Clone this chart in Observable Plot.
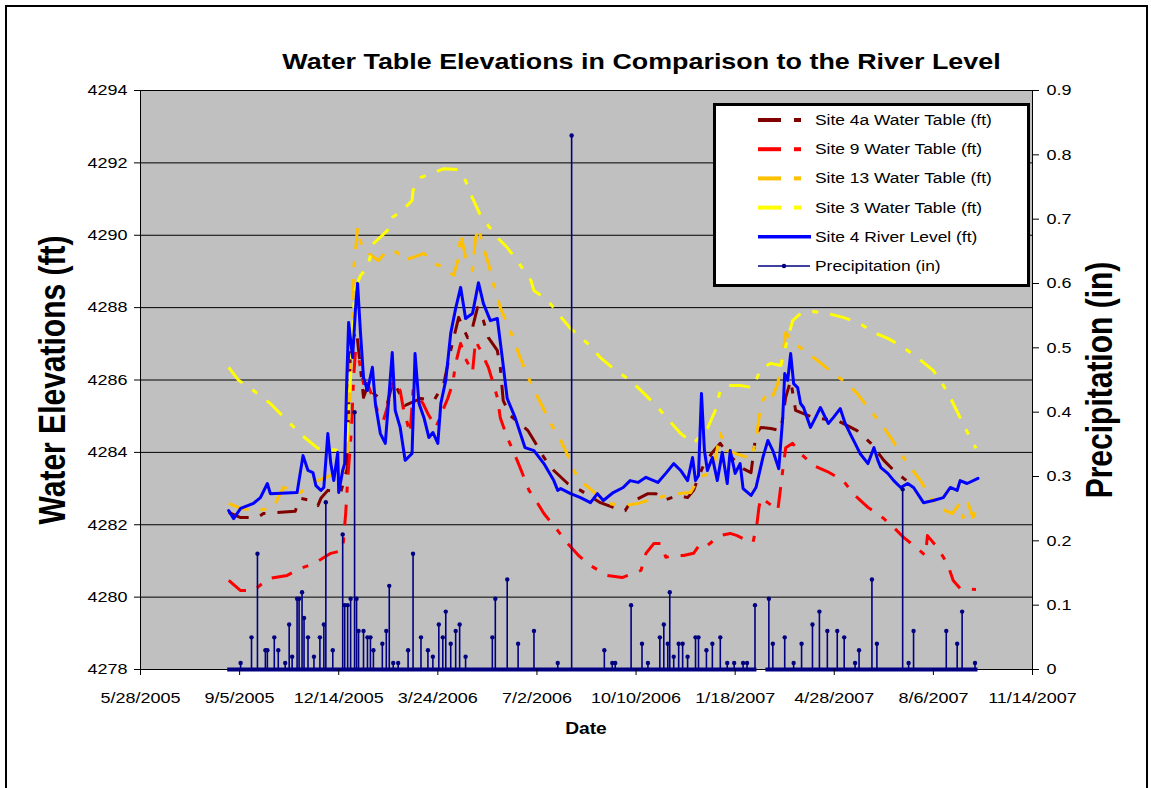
<!DOCTYPE html>
<html><head><meta charset="utf-8">
<script src="https://cdn.jsdelivr.net/npm/d3@7"></script>
<script src="https://cdn.jsdelivr.net/npm/@observablehq/plot@0.6"></script>
<style>
html,body{margin:0;padding:0;background:#fff;overflow:hidden}
#wrap{position:relative;width:1151px;height:788px;overflow:hidden;font-family:"Liberation Sans",Arial,sans-serif}
#chart{position:absolute;left:0;top:0}
#frame{position:absolute;left:5px;top:5px;width:1143px;height:820px;border:2px solid #000;box-sizing:border-box;pointer-events:none}
#overlay{position:absolute;left:0;top:0;pointer-events:none}
</style></head><body>
<div id="wrap"><div id="chart"></div><div id="frame"></div><svg id="overlay" width="1151" height="788"></svg></div>
<script>
// Dates are Excel serial day numbers (as in the source workbook)
const site4a = [[38589,4282.34],[38601,4282.20],[38618,4282.20],[38624,4282.31],[38638,4282.34],[38656,4282.37],[38661,4282.73],[38672,4282.67],[38679,4282.53],[38682,4282.73],[38689,4282.95],[38702,4282.89],[38708,4283.50],[38712,4287.01],[38718,4287.37],[38725,4285.52],[38730,4285.90],[38735,4285.63],[38749,4285.35],[38755,4285.99],[38767,4285.30],[38783,4285.49],[38796,4285.43],[38806,4285.90],[38813,4286.82],[38821,4287.73],[38830,4287.17],[38835,4287.45],[38840,4288.00],[38846,4287.64],[38851,4287.17],[38860,4286.82],[38863,4286.35],[38866,4285.43],[38873,4285.02],[38891,4284.60],[38897,4284.33],[38907,4283.86],[38917,4283.50],[38931,4283.14],[38944,4282.95],[38964,4282.61],[38977,4282.48],[38989,4282.39],[38994,4282.61],[39012,4282.86],[39020,4282.86],[39028,4282.67],[39042,4282.81],[39052,4282.75],[39058,4282.95],[39063,4283.31],[39067,4283.58],[39077,4284.00],[39085,4284.25],[39092,4283.97],[39102,4283.72],[39108,4283.55],[39116,4283.44],[39121,4284.52],[39126,4284.69],[39136,4284.66],[39146,4284.60],[39151,4285.52],[39156,4285.99],[39161,4285.16],[39169,4285.07],[39179,4284.96],[39203,4284.88],[39223,4284.60],[39237,4284.25],[39250,4283.78],[39260,4283.50],[39270,4283.28],[39277,4283.14]];

const site9 = [[38589,4280.46],[38601,4280.18],[38614,4280.18],[38629,4280.51],[38648,4280.60],[38661,4280.79],[38675,4280.93],[38692,4281.21],[38704,4281.29],[38707,4282.31],[38709,4283.22],[38713,4284.69],[38715,4286.07],[38717,4286.82],[38720,4286.62],[38725,4285.90],[38729,4285.90],[38739,4285.16],[38745,4284.88],[38749,4285.24],[38755,4285.99],[38762,4285.71],[38765,4285.24],[38772,4284.52],[38775,4285.71],[38785,4285.35],[38790,4285.07],[38798,4284.69],[38805,4285.16],[38810,4285.49],[38815,4285.90],[38818,4286.46],[38823,4287.01],[38828,4286.59],[38835,4286.21],[38838,4287.09],[38843,4286.82],[38851,4286.35],[38856,4285.90],[38860,4285.52],[38863,4284.96],[38870,4284.41],[38876,4284.05],[38883,4283.58],[38892,4282.95],[38899,4282.67],[38907,4282.31],[38921,4281.84],[38931,4281.48],[38942,4281.15],[38954,4280.87],[38971,4280.60],[38986,4280.54],[39005,4280.74],[39010,4281.21],[39018,4281.48],[39025,4281.48],[39030,4281.10],[39038,4281.15],[39048,4281.15],[39058,4281.21],[39065,4281.48],[39072,4281.43],[39078,4281.56],[39085,4281.70],[39095,4281.76],[39102,4281.70],[39112,4281.56],[39118,4281.51],[39122,4282.03],[39124,4282.48],[39126,4282.75],[39134,4282.59],[39143,4282.39],[39148,4283.50],[39151,4284.13],[39158,4284.25],[39166,4283.97],[39179,4283.64],[39193,4283.47],[39209,4283.22],[39219,4282.86],[39234,4282.48],[39250,4282.17],[39259,4281.95],[39270,4281.65],[39284,4281.34],[39292,4281.15],[39294,4281.70],[39304,4281.37],[39314,4280.93],[39320,4280.46],[39327,4280.24],[39343,4280.21]];

const site13 = [[38589,4282.59],[38601,4282.45],[38618,4282.39],[38634,4282.48],[38644,4283.03],[38661,4282.89],[38679,4283.22],[38687,4283.31],[38705,4283.50],[38709,4284.05],[38714,4287.73],[38715,4289.03],[38717,4289.58],[38719,4290.21],[38721,4289.91],[38725,4289.58],[38730,4289.50],[38740,4289.30],[38749,4289.58],[38759,4289.53],[38764,4289.30],[38775,4289.39],[38786,4289.50],[38796,4289.22],[38806,4289.11],[38816,4288.89],[38821,4289.39],[38823,4290.05],[38828,4289.39],[38835,4289.03],[38838,4289.91],[38841,4290.21],[38846,4289.66],[38851,4289.22],[38856,4288.67],[38863,4288.00],[38873,4287.37],[38883,4286.62],[38894,4285.90],[38904,4285.35],[38914,4284.80],[38924,4284.33],[38932,4283.86],[38937,4283.50],[38944,4283.22],[38952,4283.03],[38971,4282.59],[38987,4282.53],[39002,4282.59],[39022,4282.75],[39042,4282.86],[39055,4282.89],[39062,4283.22],[39068,4283.36],[39077,4283.44],[39085,4284.52],[39092,4284.05],[39100,4283.97],[39116,4283.83],[39121,4284.33],[39126,4285.35],[39131,4285.57],[39136,4285.43],[39143,4285.90],[39148,4286.68],[39151,4287.31],[39159,4287.04],[39169,4286.82],[39183,4286.54],[39199,4286.18],[39213,4285.90],[39223,4285.63],[39234,4285.24],[39247,4284.80],[39257,4284.41],[39267,4283.97],[39277,4283.58],[39287,4283.22],[39297,4282.75],[39307,4282.45],[39319,4282.31],[39327,4282.59],[39330,4282.20],[39335,4282.59],[39340,4282.20],[39343,4282.39]];

const site3 = [[38589,4286.35],[38599,4285.99],[38614,4285.71],[38631,4285.35],[38648,4284.88],[38663,4284.47],[38679,4284.11],[38702,4284.05],[38708,4284.33],[38712,4286.12],[38716,4288.47],[38722,4288.89],[38729,4289.11],[38735,4289.77],[38749,4290.13],[38754,4290.49],[38764,4290.68],[38774,4290.96],[38775,4291.24],[38783,4291.60],[38796,4291.73],[38806,4291.84],[38820,4291.82],[38828,4291.51],[38833,4291.15],[38843,4290.55],[38860,4289.94],[38870,4289.66],[38880,4289.30],[38894,4288.75],[38897,4288.47],[38911,4288.20],[38921,4287.84],[38934,4287.42],[38951,4287.01],[38964,4286.62],[38977,4286.32],[38994,4285.99],[39008,4285.63],[39022,4285.24],[39035,4284.83],[39045,4284.52],[39058,4284.25],[39072,4284.66],[39080,4285.16],[39085,4285.71],[39092,4285.85],[39105,4285.85],[39118,4285.79],[39126,4286.32],[39136,4286.46],[39146,4286.40],[39149,4286.73],[39158,4287.64],[39166,4287.84],[39179,4287.89],[39193,4287.84],[39209,4287.73],[39226,4287.56],[39240,4287.31],[39254,4287.15],[39267,4286.95],[39284,4286.62],[39300,4286.26],[39309,4285.90],[39317,4285.52],[39327,4284.96],[39335,4284.52],[39343,4284.11]];

const river4 = [[38589,4282.39],[38594,4282.17],[38601,4282.45],[38614,4282.59],[38621,4282.75],[38628,4283.14],[38631,4282.86],[38658,4282.89],[38664,4283.91],[38669,4283.50],[38674,4283.44],[38677,4283.08],[38682,4282.95],[38685,4283.03],[38689,4284.52],[38692,4283.69],[38695,4283.22],[38699,4284.00],[38700,4282.89],[38704,4283.50],[38706,4283.69],[38708,4285.90],[38710,4287.59],[38714,4286.62],[38717,4288.00],[38719,4288.67],[38722,4287.29],[38725,4286.07],[38729,4285.71],[38734,4286.35],[38737,4285.35],[38742,4284.52],[38747,4284.25],[38749,4284.96],[38754,4286.76],[38757,4285.16],[38762,4284.69],[38767,4283.78],[38774,4283.97],[38777,4286.73],[38781,4285.35],[38786,4284.96],[38791,4284.41],[38795,4284.55],[38800,4284.25],[38803,4285.35],[38808,4285.99],[38813,4287.29],[38818,4287.98],[38823,4288.56],[38828,4287.70],[38835,4287.84],[38841,4288.69],[38846,4288.11],[38853,4287.64],[38860,4287.70],[38865,4286.62],[38870,4285.49],[38878,4284.96],[38888,4284.13],[38897,4284.05],[38907,4283.69],[38917,4283.22],[38921,4282.95],[38924,4283.00],[38934,4282.86],[38944,4282.75],[38954,4282.61],[38961,4282.86],[38967,4282.67],[38977,4282.89],[38987,4283.03],[38994,4283.22],[39002,4283.17],[39010,4283.31],[39022,4283.17],[39030,4283.42],[39038,4283.69],[39045,4283.50],[39052,4283.22],[39057,4283.86],[39060,4283.22],[39063,4283.36],[39066,4285.63],[39069,4284.05],[39072,4283.50],[39077,4283.86],[39082,4283.22],[39087,4284.00],[39092,4283.14],[39095,4284.05],[39100,4283.42],[39105,4283.69],[39108,4283.00],[39116,4282.81],[39121,4283.03],[39128,4283.86],[39133,4284.33],[39138,4284.05],[39144,4283.55],[39148,4284.96],[39150,4286.18],[39153,4285.99],[39156,4286.73],[39159,4285.90],[39163,4285.79],[39166,4285.35],[39169,4285.24],[39176,4284.69],[39181,4284.96],[39186,4285.24],[39191,4284.96],[39194,4284.80],[39199,4284.96],[39206,4285.21],[39211,4284.80],[39216,4284.52],[39221,4284.25],[39226,4283.97],[39234,4283.69],[39240,4284.13],[39244,4283.78],[39247,4283.58],[39254,4283.42],[39260,4283.22],[39267,4283.03],[39274,4283.14],[39280,4283.03],[39290,4282.61],[39300,4282.67],[39310,4282.75],[39317,4283.03],[39324,4282.95],[39327,4283.22],[39334,4283.14],[39345,4283.28]];

const precip = [[38601,0.01],[38612,0.05],[38618,0.18],[38626,0.03],[38628,0.03],[38635,0.05],[38639,0.03],[38646,0.01],[38650,0.07],[38653,0.02],[38658,0.11],[38660,0.11],[38663,0.12],[38665,0.08],[38669,0.05],[38675,0.02],[38681,0.05],[38685,0.07],[38687,0.26],[38694,0.03],[38704,0.21],[38706,0.10],[38709,0.10],[38712,0.11],[38716,0.40],[38718,0.11],[38720,0.06],[38725,0.06],[38729,0.05],[38732,0.05],[38735,0.03],[38744,0.04],[38748,0.06],[38751,0.13],[38755,0.01],[38760,0.01],[38770,0.03],[38775,0.18],[38783,0.05],[38790,0.03],[38795,0.02],[38801,0.07],[38805,0.05],[38808,0.09],[38813,0.04],[38818,0.06],[38822,0.07],[38828,0.02],[38855,0.05],[38858,0.11],[38870,0.14],[38881,0.04],[38897,0.06],[38921,0.01],[38935,0.83],[38968,0.03],[38976,0.01],[38979,0.01],[38995,0.10],[39006,0.04],[39012,0.01],[39024,0.05],[39028,0.07],[39032,0.04],[39034,0.12],[39038,0.02],[39043,0.04],[39047,0.04],[39052,0.02],[39060,0.05],[39063,0.05],[39071,0.03],[39077,0.04],[39085,0.05],[39092,0.01],[39099,0.01],[39108,0.01],[39112,0.01],[39120,0.10],[39134,0.11],[39138,0.04],[39150,0.05],[39159,0.01],[39167,0.04],[39178,0.07],[39185,0.09],[39193,0.06],[39203,0.06],[39210,0.05],[39221,0.01],[39225,0.03],[39238,0.14],[39243,0.04],[39269,0.28],[39275,0.01],[39280,0.06],[39313,0.06],[39324,0.04],[39329,0.09],[39342,0.01]];
// periods with (zero or more) daily precipitation records
const precipSpans = [[38588,39122],[39131,39345]];

const xTickSerials = [38500,38600,38700,38800,38900,39000,39100,39200,39300,39400];
const ftTicks = [4278,4280,4282,4284,4286,4288,4290,4292,4294];
const inTicks = [0,0.1,0.2,0.3,0.4,0.5,0.6,0.7,0.8,0.9];

const seriesNames = ["Site 4a Water Table (ft)","Site 9 Water Table (ft)","Site 13 Water Table (ft)","Site 3 Water Table (ft)","Site 4 River Level (ft)","Precipitation (in)"];
const seriesColors = ["#800000","#FF0000","#FFC000","#FFFF00","#0000FF","#000080"];

const chartTitle = "Water Table Elevations in Comparison to the River Level";
const xTitle = "Date", yTitle = "Water Elevations (ft)", y2Title = "Precipitation (in)";

// ---- helpers
const toDate = s => new Date(Date.UTC(1899, 11, 30) + s * 864e5);
const FT0 = 4278, FT1 = 4294, IN1 = 0.9;
const inToFt = p => FT0 + p * (FT1 - FT0) / IN1;
const ftToIn = f => (f - FT0) * IN1 / (FT1 - FT0);
const fmtDate = d => `${d.getUTCMonth()+1}/${d.getUTCDate()}/${d.getUTCFullYear()}`;
const SX = 1.2; // horizontal text stretch of the original picture
const FONT = "'Liberation Sans', Arial, sans-serif";
const DASH = "21,12,6,12";

const wt = (data, color) => Plot.line(data, {x: d => toDate(d[0]), y: d => d[1], stroke: color, strokeWidth: 3, strokeDasharray: DASH, strokeLinecap: "butt", strokeLinejoin: "round"});

const plot = Plot.plot({
  width: 1151, height: 788,
  marginLeft: 140, marginRight: 119, marginTop: 90, marginBottom: 119,
  x: {type: "utc", domain: [toDate(38500), toDate(39400)]},
  y: {domain: [FT0, FT1]},
  style: {fontFamily: FONT, fontSize: "15px", color: "#000", background: "transparent", overflow: "visible"},
  marks: [
    Plot.frame({fill: "#C0C0C0", stroke: "none"}),
    Plot.gridY(ftTicks, {stroke: "#000", strokeOpacity: 1, strokeWidth: 1}),
    wt(site4a, seriesColors[0]),
    wt(site9, seriesColors[1]),
    wt(site13, seriesColors[2]),
    wt(site3, seriesColors[3]),
    Plot.line(river4, {x: d => toDate(d[0]), y: d => d[1], stroke: seriesColors[4], strokeWidth: 3, strokeLinejoin: "round"}),
    Plot.ruleX([toDate(38500)], {stroke: "#000", strokeWidth: 1}),
    Plot.ruleX([toDate(39400)], {stroke: "#000", strokeWidth: 1}),
    Plot.ruleY([FT0], {stroke: "#000", strokeWidth: 1}),
    Plot.ruleY(precipSpans, {x1: d => toDate(d[0]), x2: d => toDate(d[1]), y: d => inToFt(0), stroke: seriesColors[5], strokeWidth: 4}),
    Plot.ruleX(precip, {x: d => toDate(d[0]), y1: d => inToFt(0), y2: d => inToFt(d[1]), stroke: seriesColors[5], strokeWidth: 1.6}),
    Plot.dot(precip, {x: d => toDate(d[0]), y: d => inToFt(d[1]), r: 2.2, fill: seriesColors[5], stroke: "none"}),
    Plot.axisY(ftTicks, {anchor: "left", tickSize: 6, tickPadding: 7, fontSize: 15, label: null, tickFormat: d => String(d)}),
    Plot.axisY(inTicks.map(inToFt), {anchor: "right", tickSize: 6, tickPadding: 8, fontSize: 15, label: null, tickFormat: f => String(+ftToIn(f).toFixed(1))}),
    Plot.axisX(xTickSerials.map(toDate), {anchor: "bottom", tickSize: 6, tickPadding: 17, fontSize: 15, label: null, tickFormat: fmtDate})
  ]
});
document.getElementById("chart").appendChild(plot);

// stretch tick labels horizontally like the reference picture
plot.querySelectorAll("text").forEach(t => {
  const tr = t.getAttribute("transform");
  if (tr) t.setAttribute("transform", tr + ` scale(${SX},1)`);
  else {
    const x = +(t.getAttribute("x") || 0), y = +(t.getAttribute("y") || 0);
    t.setAttribute("transform", `translate(${x},${y}) scale(${SX},1) translate(${-x},${-y})`);
  }
});

// ---- overlay: titles and legend
const ov = d3.select("#overlay");
function label(txt, x, y, size, weight, rotate = 0, anchor = "middle") {
  ov.append("g").attr("transform", `translate(${x},${y}) scale(${SX},1) rotate(${rotate})`)
    .append("text").attr("text-anchor", anchor).attr("font-family", FONT)
    .attr("font-size", size).attr("font-weight", weight).attr("fill", "#000").text(txt);
}
label(chartTitle, 641.5, 69, 22.4, "bold");
label(xTitle, 586, 734, 16, "bold");
label(yTitle, 65, 380, 30, "bold", -90);
label(y2Title, 1112, 380, 30, "bold", -90);

// legend
const lg = ov.append("g");
lg.append("rect").attr("x", 714.5).attr("y", 104.5).attr("width", 314).attr("height", 181)
  .attr("fill", "#fff").attr("stroke", "#000").attr("stroke-width", 3);
seriesNames.forEach((name, i) => {
  const y = 120 + i * 29.2;
  if (i < 4) {
    lg.append("line").attr("x1", 758).attr("x2", 781).attr("y1", y).attr("y2", y).attr("stroke", seriesColors[i]).attr("stroke-width", 4);
    lg.append("line").attr("x1", 794).attr("x2", 801).attr("y1", y).attr("y2", y).attr("stroke", seriesColors[i]).attr("stroke-width", 4);
  } else if (i === 4) {
    lg.append("line").attr("x1", 758).attr("x2", 811).attr("y1", y).attr("y2", y).attr("stroke", seriesColors[i]).attr("stroke-width", 3.5);
  } else {
    lg.append("line").attr("x1", 758).attr("x2", 810).attr("y1", y).attr("y2", y).attr("stroke", seriesColors[i]).attr("stroke-width", 1.5);
    lg.append("circle").attr("cx", 784).attr("cy", y).attr("r", 2.2).attr("fill", seriesColors[i]);
  }
  lg.append("g").attr("transform", `translate(815,${y + 5}) scale(${SX},1)`)
    .append("text").attr("font-family", FONT).attr("font-size", 14.5).attr("fill", "#000").text(name);
});
</script>
</body></html>
